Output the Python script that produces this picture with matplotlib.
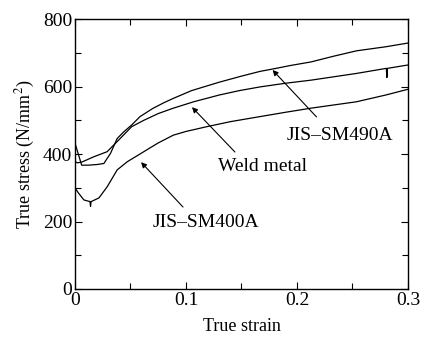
import matplotlib
matplotlib.use('Agg')
import matplotlib.pyplot as plt
import numpy as np

# values
sm490a_strain = [0, 0, 0.003, 0.006, 0.012, 0.02, 0.026, 0.032, 0.038, 0.044, 0.051,
                 0.0586, 0.07, 0.08, 0.0886, 0.105, 0.122, 0.13, 0.15, 0.1667, 0.178,
                 0.195, 0.2126, 0.233, 0.2537, 0.28, 0.3]
sm490a_stress = [0, 432, 400, 367, 367, 369, 372, 402, 446, 466, 486,
                 511, 535, 552, 565, 588, 605, 613, 631, 645, 652,
                 663, 673, 690, 706, 718, 729]

weld_strain = [0, 0, 0.002, 0.006, 0.017, 0.029, 0.041, 0.051, 0.062, 0.075, 0.0886,
               0.107, 0.13, 0.148, 0.1667, 0.19, 0.2126, 0.2537, 0.2805, 0.281,
               0.2815, 0.3]
weld_stress = [0, 378, 374, 376, 392, 407, 447, 481, 500, 520, 536,
               555, 575, 588, 599, 610, 619, 639, 654, 627,
               654, 664]

sm400a_strain = [0, 0, 0.003, 0.008, 0.0135, 0.014, 0.0145, 0.0216, 0.029, 0.038,
                 0.047, 0.062, 0.075, 0.0886, 0.1, 0.1186, 0.14, 0.1667, 0.19,
                 0.2126, 0.2537, 0.28, 0.3]
sm400a_stress = [0, 300, 285, 264, 259, 245, 259, 270, 303, 353,
                 377, 407, 433, 456, 467, 481, 496, 511, 524,
                 536, 555, 575, 592]

labels = ['JIS\u2013SM490A', 'Weld metal', 'JIS\u2013SM400A']
label_pos = [(0.2387, 456), (0.1685, 364), (0.118, 196)]
arrow_tail = [(0.2176, 510), (0.1441, 406), (0.0973, 243)]
arrow_head = [(0.178, 649), (0.1054, 539), (0.0595, 376)]

plt.rcParams['font.family'] = ['Liberation Serif', 'DejaVu Serif']
plt.rcParams['mathtext.fontset'] = 'stix'

fig = plt.figure(figsize=(4.22, 3.41), dpi=100)
ax = fig.add_axes([0.1777, 0.1525, 0.7891, 0.7915])

for x, y in [(sm490a_strain, sm490a_stress), (weld_strain, weld_stress),
             (sm400a_strain, sm400a_stress)]:
    ax.plot(x, y, color='k', lw=0.9)

for lab, pos in zip(labels, label_pos):
    ax.text(pos[0], pos[1], lab, fontsize=14, ha='center', va='center')

for t, h in zip(arrow_tail, arrow_head):
    ax.annotate('', xy=h, xytext=t,
                arrowprops=dict(arrowstyle='-|>', lw=0.8, color='k',
                                mutation_scale=8, shrinkA=0, shrinkB=0))

ax.set_xlim(0, 0.3)
ax.set_ylim(0, 800)
ax.set_xticks([0, 0.1, 0.2, 0.3])
ax.set_xticklabels(['0', '0.1', '0.2', '0.3'])
ax.set_yticks([0, 200, 400, 600, 800])
ax.set_xticks(np.arange(0.05, 0.3, 0.1), minor=True)
ax.set_yticks([100, 300, 500, 700], minor=True)
ax.tick_params(which='both', direction='in', top=True, right=True,
               labelsize=14, pad=2)
ax.tick_params(which='major', length=5, width=0.8)
ax.tick_params(which='minor', length=4, width=0.8)
for s in ax.spines.values():
    s.set_linewidth(1.0)

ax.set_xlabel('True strain', fontsize=13, labelpad=7)
ax.set_ylabel('True stress (N/mm$^{2}$)', fontsize=13, labelpad=4)

fig.savefig('out.png', dpi=100)
